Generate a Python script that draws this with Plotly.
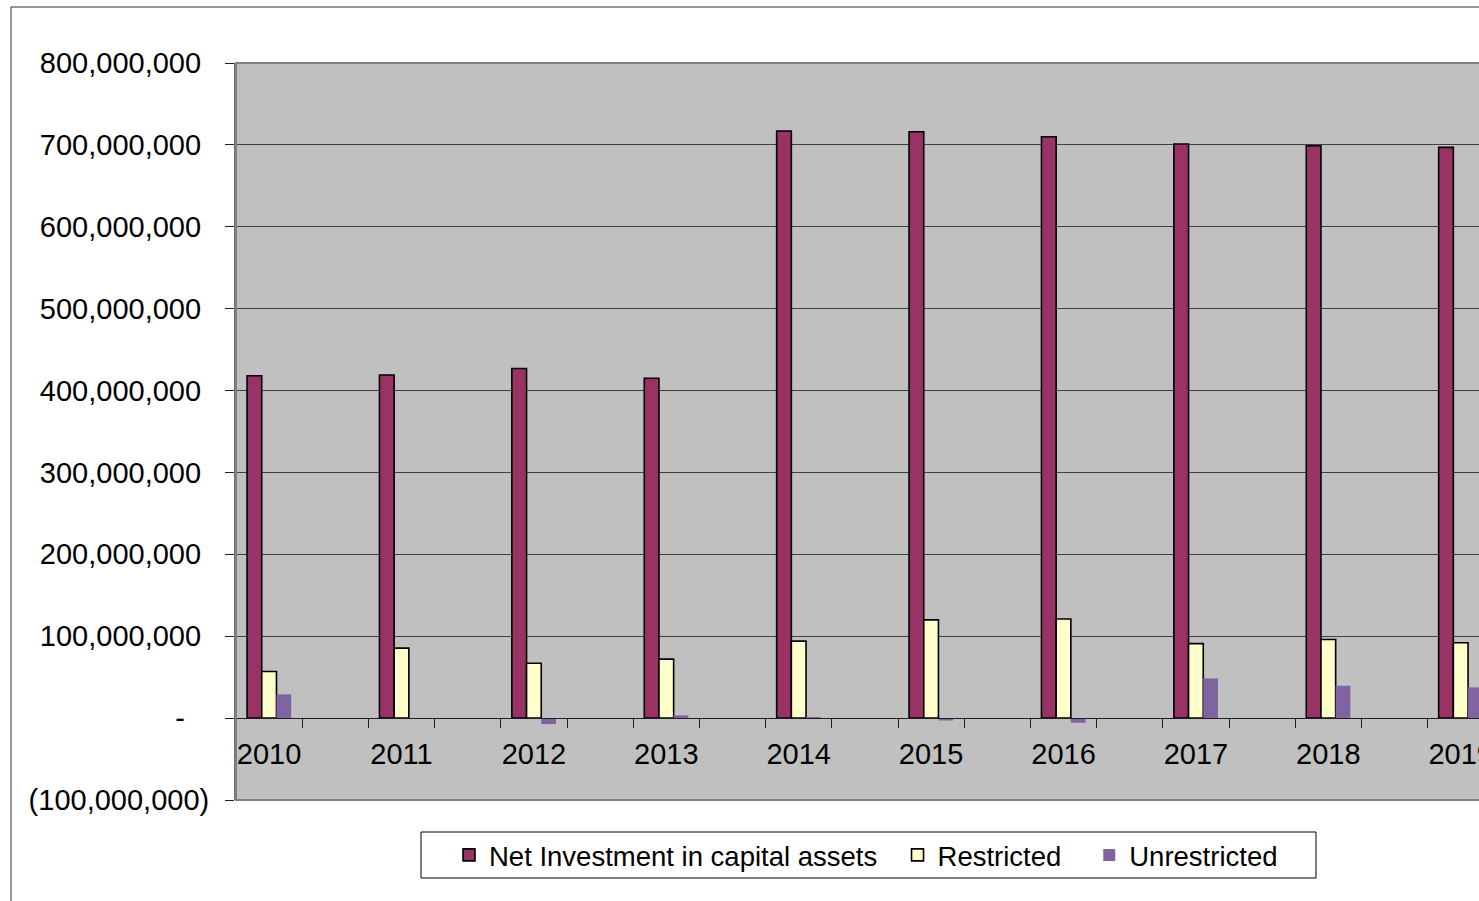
import plotly.graph_objects as go

# Net position components by fiscal year
years = ["2010", "2011", "2012", "2013", "2014", "2015", "2016", "2017", "2018", "2019"]
net_investment = [418_000_000, 419_000_000, 427_000_000, 415_000_000, 717_000_000,
                  716_000_000, 710_000_000, 701_000_000, 699_000_000, 697_000_000]
restricted = [57_000_000, 85_500_000, 67_000_000, 72_000_000, 94_000_000,
              120_000_000, 121_000_000, 91_000_000, 96_000_000, 92_000_000]
unrestricted = [29_000_000, -1_000_000, -7_300_000, 3_300_000, 1_200_000,
                -2_900_000, -5_700_000, 48_500_000, 39_500_000, 37_500_000]

y_ticks = [-100_000_000, 0, 100_000_000, 200_000_000, 300_000_000, 400_000_000,
           500_000_000, 600_000_000, 700_000_000, 800_000_000]

W, H = 1479, 901
ML, MT, MB = 236, 63, 101
PW, PH = W - ML, H - MT - MB

NB = "\u00a0"


def fmt(v):
    if v == 0:
        return "-" + NB * 3
    if v < 0:
        return "({:,})".format(-v)
    return "{:,}".format(v) + NB


# each year occupies every other slot on the category axis
xpos = [2 * i for i in range(len(years))]
bw = 0.222

fig = go.Figure()
fig.add_trace(go.Bar(
    x=xpos, y=net_investment, name="Net Investment in capital assets" + NB * 2,
    width=bw, offset=-0.333,
    marker=dict(color="#993366", line=dict(color="black", width=1.6)),
))
fig.add_trace(go.Bar(
    x=xpos, y=restricted, name="Restricted" + NB * 3,
    width=bw, offset=-0.111,
    marker=dict(color="#FFFFCC", line=dict(color="black", width=1.6)),
))
fig.add_trace(go.Bar(
    x=xpos, y=unrestricted, name="Unrestricted",
    width=bw, offset=0.111,
    marker=dict(color="#8064A2", line=dict(width=0)),
))


def px_x(p):
    return (p - ML) / PW


def px_y(p):
    return (H - MB - p) / PH


font = dict(family="Liberation Sans, Arial, sans-serif", size=29, color="black")

fig.update_layout(
    width=W, height=H,
    margin=dict(l=ML, r=0, t=MT, b=MB, pad=0, autoexpand=False),
    paper_bgcolor="white",
    plot_bgcolor="#C0C0C0",
    barmode="overlay",
    font=font,
    showlegend=True,
    legend=dict(
        orientation="h",
        x=px_x(449), xanchor="left",
        y=px_y(855), yanchor="middle",
        bgcolor="rgba(0,0,0,0)", borderwidth=0,
        font=dict(family="Liberation Sans, Arial, sans-serif", size=27.5, color="black"),
        traceorder="normal",
    ),
    xaxis=dict(
        type="linear",
        range=[-0.5, -0.5 + PW / 66.2],
        anchor="free", position=1 / 9,
        automargin=False,
        showline=True, linecolor="#202020", linewidth=1,
        showgrid=False, zeroline=False,
        tickmode="array", tickvals=xpos, ticktext=years,
        ticks="", ticklabelstandoff=10,
        ticklabeloverflow="allow",
        tickfont=font,
        minor=dict(tickmode="array", tickvals=[k + 0.5 for k in range(-1, 20)],
                   ticks="outside", ticklen=9, tickwidth=1, tickcolor="#202020",
                   showgrid=False),
    ),
    yaxis=dict(
        range=[-100_000_000, 800_000_000],
        automargin=False,
        tickmode="array", tickvals=y_ticks, ticktext=[fmt(v) for v in y_ticks],
        ticks="outside", ticklen=9, tickwidth=1, tickcolor="#202020",
        ticklabelstandoff=10,
        showgrid=True, gridcolor="#404040", gridwidth=1,
        zeroline=True, zerolinecolor="#202020", zerolinewidth=1,
        showline=True, linecolor="#707070", linewidth=2,
        tickfont=font,
    ),
    shapes=[
        # plot area frame
        dict(type="rect", xref="paper", yref="paper", x0=0, x1=1.05, y0=0, y1=1,
             line=dict(color="#808080", width=2), layer="above"),
        # legend frame
        dict(type="rect", xref="paper", yref="paper",
             x0=px_x(421), x1=px_x(1316), y0=px_y(832), y1=px_y(878),
             line=dict(color="black", width=1), fillcolor="white", layer="below"),
        # chart area frame
        dict(type="line", xref="paper", yref="paper",
             x0=px_x(11), x1=px_x(11), y0=px_y(7), y1=px_y(960),
             line=dict(color="#303030", width=1)),
        dict(type="line", xref="paper", yref="paper",
             x0=px_x(11), x1=px_x(1540), y0=px_y(7), y1=px_y(7),
             line=dict(color="#303030", width=1)),
    ],
)

fig.write_html("out.html")
